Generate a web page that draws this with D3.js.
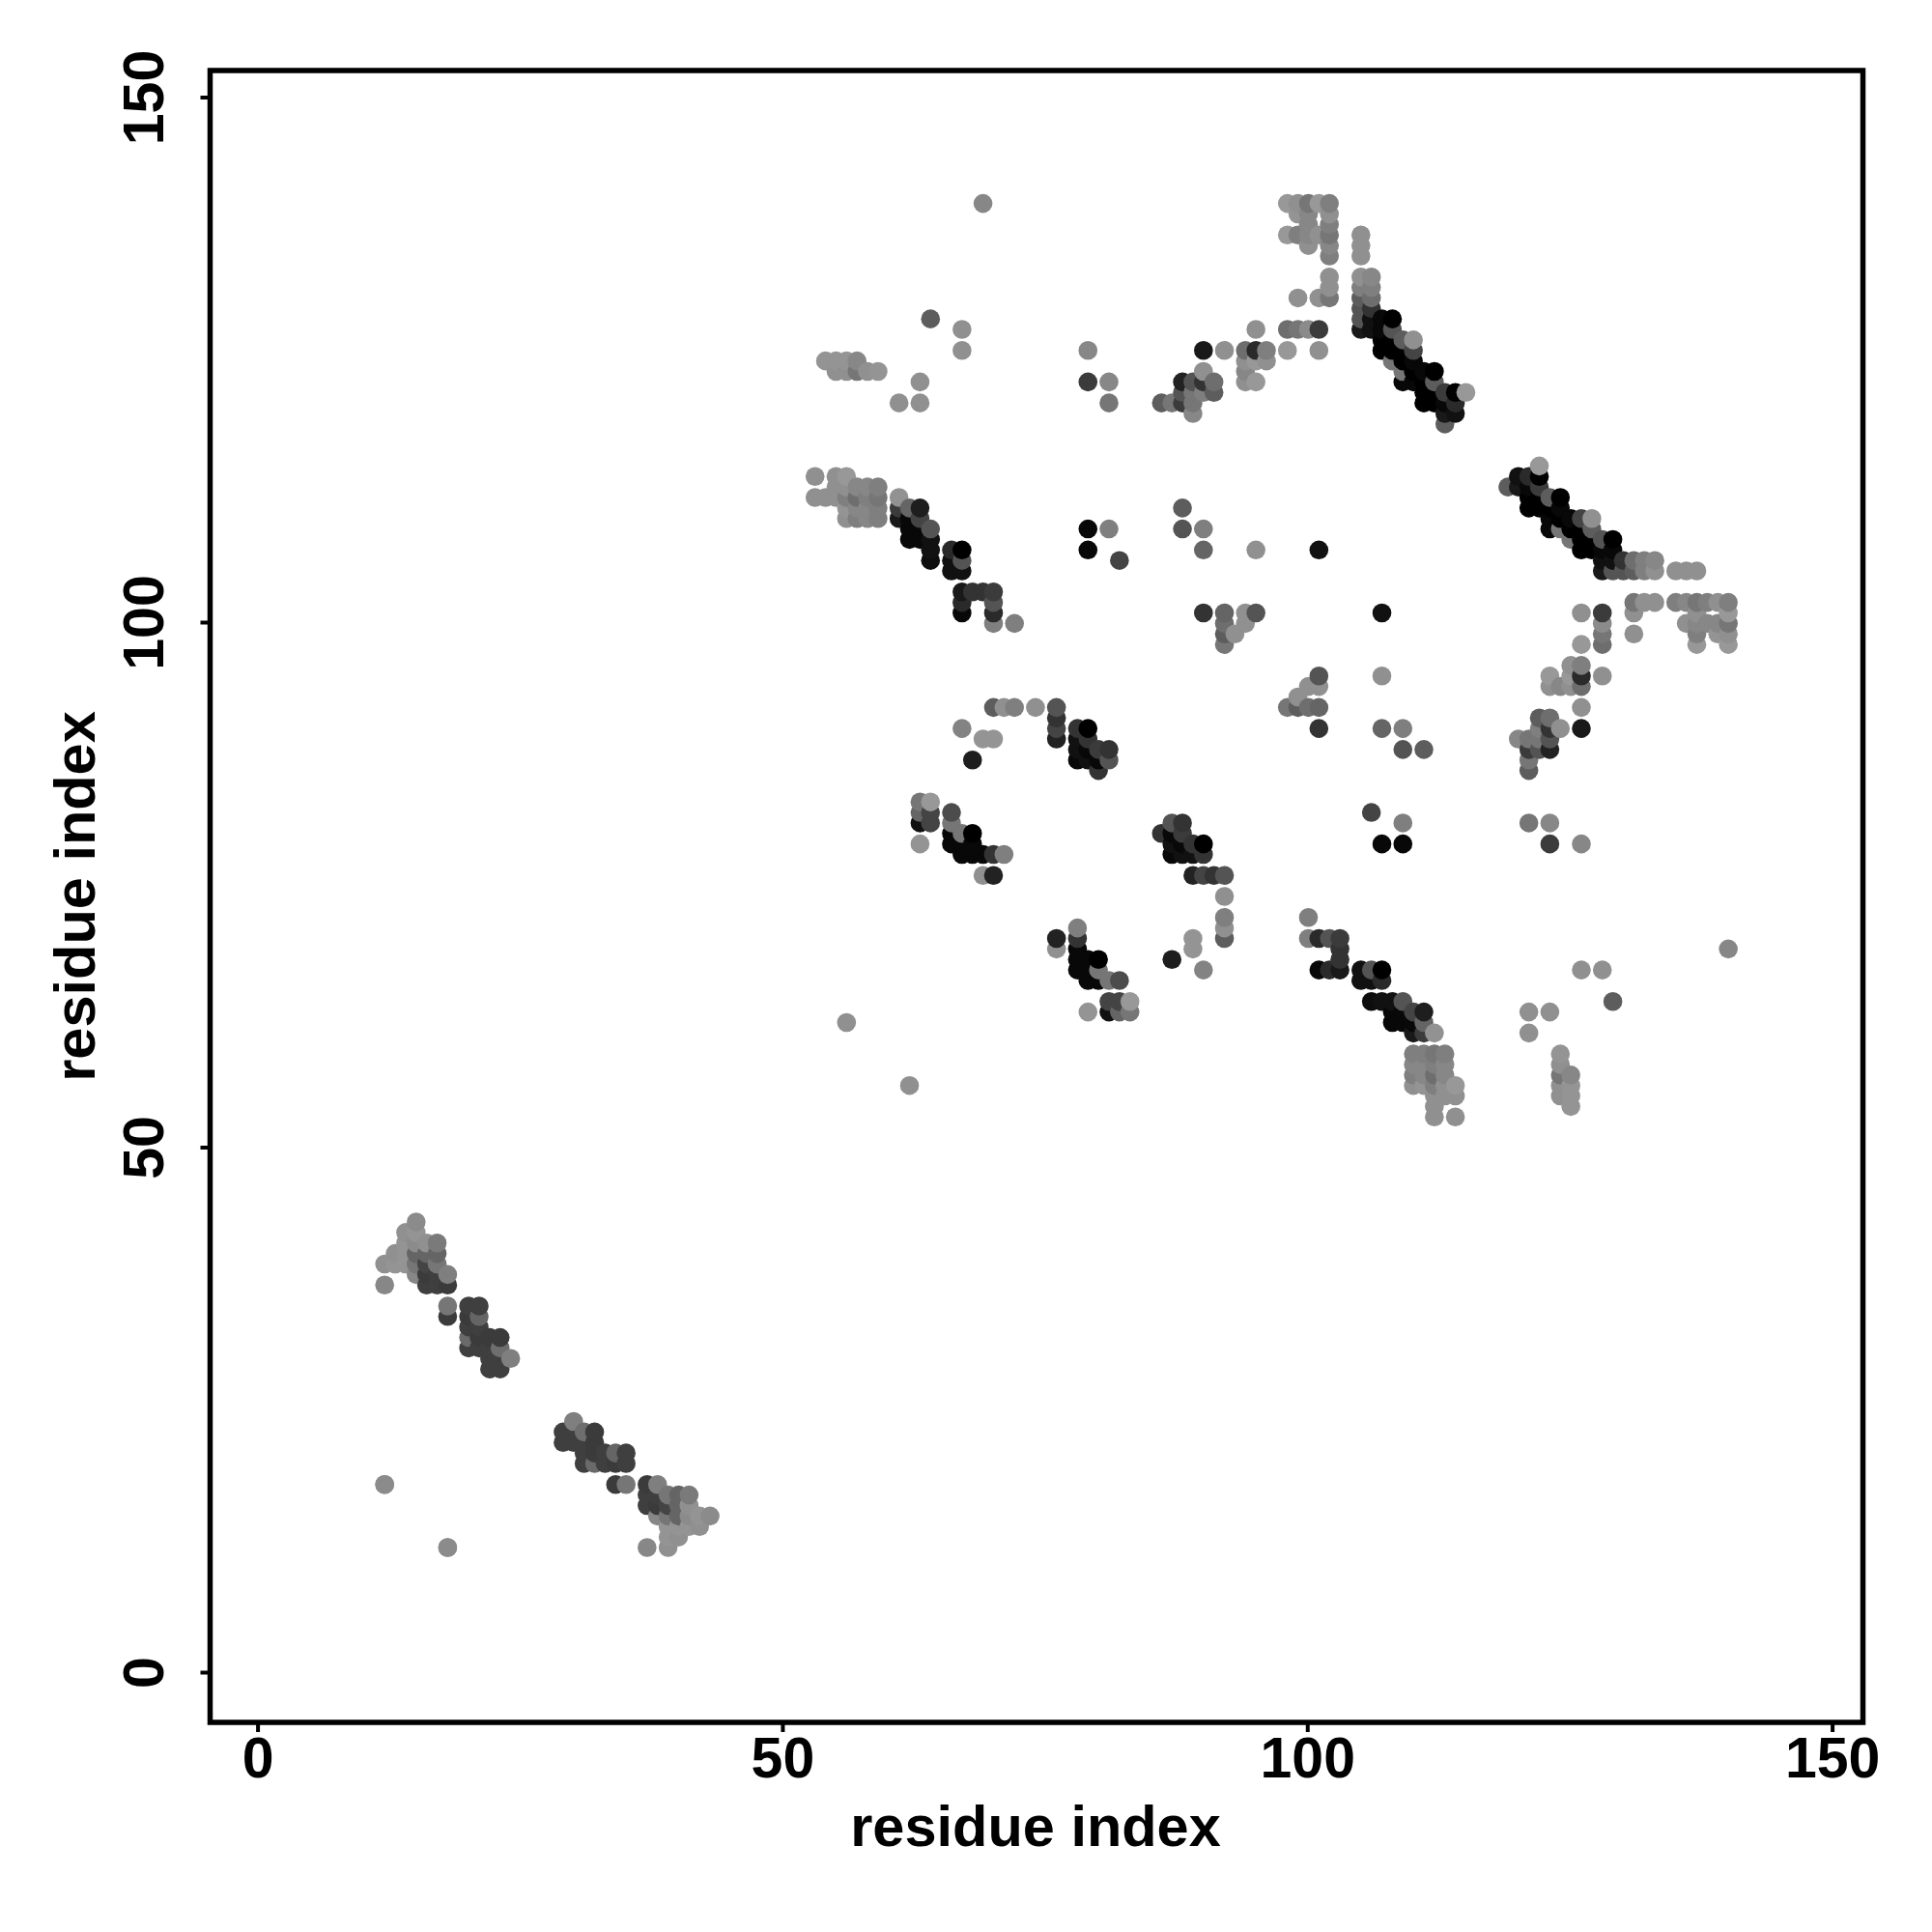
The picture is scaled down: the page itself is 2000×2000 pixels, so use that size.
<!DOCTYPE html>
<html><head><meta charset="utf-8">
<script src="https://cdn.jsdelivr.net/npm/d3@7"></script>
<style>html,body{margin:0;padding:0;background:#fff}svg{display:block}</style>
</head><body>
<script>
// contacts above the diagonal: [residue i, residue j, strength]; the map is symmetric
const nTermContacts = [
[12,37,16],[12,39,8],[12,18,12],[13,40,8],[13,39,4],[14,42,8],[14,41,4],[14,40,4],[14,39,4],
[15,43,12],[15,42,4],[15,41,12],[15,40,48],[15,39,32],[15,38,16],
[16,41,8],[16,40,48],[16,39,80],[16,38,88],[16,37,84],
[17,41,28],[17,40,48],[17,39,32],[17,38,84],[17,37,84],
[18,38,24],[18,37,88],[18,35,32],[18,34,88],[18,12,12],
[20,35,84],[20,34,88],[20,33,84],[20,32,44],[20,31,84],
[21,35,84],[21,34,48],[21,33,84],[21,32,88],[21,31,84],
[22,32,88],[22,31,84],[22,30,84],[22,29,84],
[23,32,88],[23,31,40],[23,30,84],[23,29,84],[24,30,24]
];
const strandContacts53 = [
[53,114,8],[53,112,8],[54,112,8],[54,125,4],
[55,114,8],[55,113,8],[55,112,8],[55,125,4],[55,124,8],
[56,114,0],[56,113,8],[56,112,24],[56,111,4],[56,110,8],[56,125,4],[56,124,8],[56,62,8],
[57,113,16],[57,112,40],[57,111,16],[57,110,24],[57,125,16],[57,124,32],
[58,113,16],[58,112,24],[58,111,16],[58,110,16],[58,124,8],
[59,113,24],[59,112,32],[59,111,24],[59,110,24],[59,124,4],
[61,112,6],[61,111,88],[61,110,120],[61,121,8],
[62,111,48],[62,110,136],[62,109,136],[62,108,136]
];
const strandContacts63 = [
[63,111,116],[63,110,80],[63,109,136],[63,108,136],[63,123,8],[63,121,8],[63,83,32],[63,82,48],[63,81,128],[63,79,4],
[64,109,64],[64,108,128],[64,107,128],[64,106,132],[64,129,56],[64,83,0],[64,82,80],[64,81,80],
[66,107,104],[66,106,128],[66,105,128],[66,82,72],[66,81,32],[66,80,136],[66,79,136],
[67,107,144],[67,106,64],[67,105,128],[67,103,120],[67,102,104],[67,101,136],[67,128,8],[67,126,8],[67,90,20],[67,80,32],[67,79,136],[67,78,136],
[68,103,96],[68,87,116],[68,80,144],[68,79,136],[68,78,136],
[69,103,96],[69,140,16],[69,89,4],[69,78,136],[69,76,8],
[70,103,88],[70,102,64],[70,101,104],[70,100,24],[70,92,56],[70,89,4],[70,78,96],[70,76,112],
[71,92,8],[71,78,24],[72,100,24],[72,92,24],[74,92,8]
];
const strandContacts76 = [
[76,92,64],[76,91,96],[76,90,80],[76,89,112],
[78,90,96],[78,89,128],[78,88,128],[78,87,136],
[79,90,144],[79,89,96],[79,88,136],[79,87,128],[79,126,16],[79,123,88],[79,109,136],[79,107,136],
[80,88,88],[80,87,136],[80,86,96],
[81,88,96],[81,87,64],[81,123,16],[81,121,32],[81,109,24],[82,106,80],
[86,121,56],[87,121,32],[88,121,88],[88,122,64],[88,123,112],[88,111,56],[88,109,64],
[89,123,64],[89,122,32],[89,121,32],[89,120,16],
[90,124,8],[90,123,96],[90,122,24],[90,126,120],[90,109,24],[90,107,48],[90,101,96],
[91,123,40],[91,122,56]
];
const strandContacts92 = [
[92,126,8],[92,101,48],[92,100,40],[92,99,56],[92,98,32],[93,99,8],
[94,126,40],[94,125,8],[94,124,16],[94,123,8],[94,100,8],[94,101,8],
[95,126,104],[95,123,0],[95,128,8],[95,125,0],[95,107,8],[95,101,64],
[96,126,24],[96,125,8],
[98,128,40],[98,126,0],[98,140,0],[98,137,0],
[99,128,32],[99,140,8],[99,139,4],[99,137,24],[99,131,8],
[100,128,12],[100,140,32],[100,139,16],[100,138,16],[100,137,16],[100,136,8],
[101,128,88],[101,126,8],[101,131,8],[101,140,0],[101,137,8],[101,107,128],
[102,131,32],[102,132,8],[102,133,8],[102,135,24],[102,136,16],[102,137,32],[102,138,24],[102,139,8],[102,140,24]
];
const strandContacts105 = [
[105,137,8],[105,136,8],[105,135,8],[105,133,8],[105,132,24],[105,131,56],[105,130,64],[105,129,64],[105,128,120],
[106,133,16],[106,132,24],[106,131,40],[106,130,96],[106,129,128],[106,128,128],
[107,129,136],[107,128,136],[107,127,144],[107,126,144],
[108,129,144],[108,128,64],[108,127,144],[108,126,144],[108,125,32],
[109,127,56],[109,126,144],[109,125,144],[109,124,32],[109,123,136],
[110,127,8],[110,126,80],[110,125,136],[110,124,144],[110,123,136],
[111,124,136],[111,123,144],[111,122,144],[111,121,144],
[112,124,144],[112,123,56],[112,122,144],[112,121,144],
[113,122,88],[113,121,136],[113,120,120],[113,119,56],
[114,122,144],[114,121,104],[114,120,128],[115,122,0]
];
const contactGroups = [nTermContacts, strandContacts53, strandContacts63, strandContacts76, strandContacts92, strandContacts105];
const axisTicks = [0, 50, 100, 150];
const axisTitle = "residue index";

const svg = d3.select("body").append("svg").attr("width", 2000).attr("height", 2000);
const x = d3.scaleLinear().domain([0, 150]).range([266.6, 1896.6]);
const y = d3.scaleLinear().domain([0, 150]).range([1731, 100.5]);
const shade = d3.scaleLinear().domain([0, 144]).range([152, 0]);
const font = "'Liberation Sans', Arial, sans-serif";

const contacts = contactGroups.flat().flatMap(([i, j, s]) => [[i, j, s], [j, i, s]])
  .sort((a, b) => d3.ascending(a[0], b[0]) || d3.ascending(a[1], b[1]));

svg.append("g").attr("transform", "translate(1.2,1.4)")
  .selectAll("circle").data(contacts).join("circle")
  .attr("cx", d => x(d[0])).attr("cy", d => y(d[1])).attr("r", 9.8)
  .attr("fill", d => { const g = Math.round(shade(d[2])); return `rgb(${g},${g},${g})`; });

svg.append("rect").attr("x", 217.5).attr("y", 73).attr("width", 1711).attr("height", 1710)
  .attr("fill", "none").attr("stroke", "#000").attr("stroke-width", 5.5);

const gx = svg.append("g").attr("transform", "translate(0,1783)")
  .call(d3.axisBottom(x).tickValues(axisTicks).tickSize(10).tickFormat(d3.format("d")));
const gy = svg.append("g").attr("transform", "translate(217.5,0)")
  .call(d3.axisLeft(y).tickValues(axisTicks).tickSize(10).tickFormat(d3.format("d")));
[gx, gy].forEach(g => {
  g.select(".domain").remove();
  g.selectAll("line").attr("stroke", "#000").attr("stroke-width", 4);
  g.selectAll("text").attr("fill", "#000").style("font-family", font)
    .style("font-size", "59px").style("font-weight", "bold");
});
gx.selectAll("text").attr("y", null).attr("dy", null).attr("text-anchor", "middle")
  .attr("transform", "translate(0,57)");
gy.selectAll("text").attr("x", null).attr("dy", null).attr("text-anchor", "middle")
  .attr("transform", "translate(-48.5,0) rotate(-90)");

svg.append("text").attr("x", 1072).attr("y", 1911).attr("text-anchor", "middle").text(axisTitle)
  .style("font-family", font).style("font-size", "59.5px").style("font-weight", "bold");
svg.append("text").attr("transform", "translate(98,928) rotate(-90)").attr("text-anchor", "middle").text(axisTitle)
  .style("font-family", font).style("font-size", "59.5px").style("font-weight", "bold");
</script>
</body></html>
